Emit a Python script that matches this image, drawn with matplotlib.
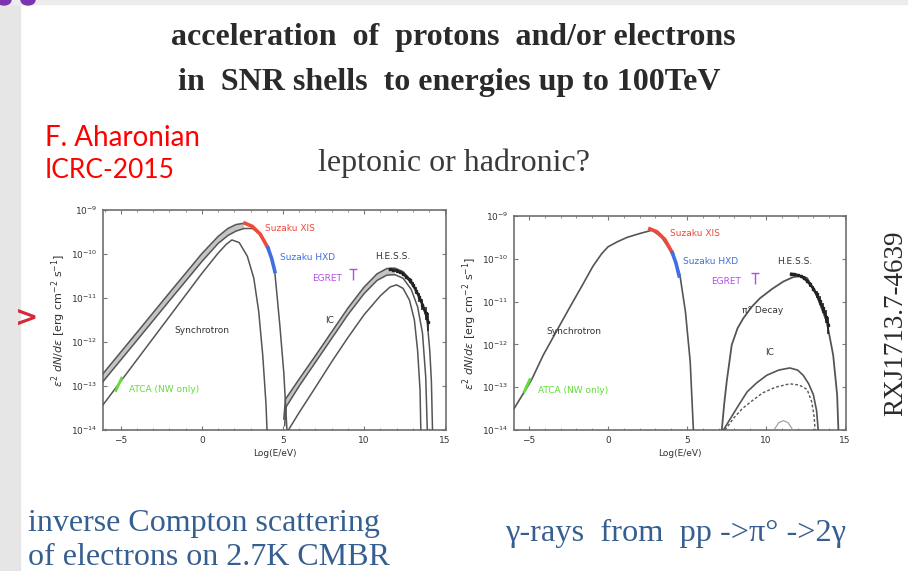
import numpy as np
import matplotlib.pyplot as plt
from matplotlib.patches import Rectangle, Ellipse
from matplotlib.ticker import LogLocator, MultipleLocator, NullFormatter

# all fluxes are log10(eps^2 dN/deps [erg cm^-2 s^-1]) against log10(E/eV)

# leptonic model: synchrotron
lep_syn_x = [-6.1, -4, -2, 0, 1, 1.6, 2.1, 2.6, 3.1, 3.6, 4.1, 4.5, 4.8, 5.05, 5.25]
lep_syn_hi = [-12.72, -11.78, -10.88, -9.99, -9.6, -9.42, -9.33, -9.3, -9.37, -9.55, -9.86, -10.43, -11.6, -12.7, -14.05]
lep_syn_mid_x = [-6.1, -4, -2, 0, 1, 1.6, 2.1, 2.6, 3.1, 3.5]
lep_syn_mid = [-12.9, -11.96, -11.06, -10.17, -9.76, -9.58, -9.48, -9.42, -9.42, -9.51]
lep_syn_lo_x = [-6.1, -4, -2, 0, 1, 1.5, 1.85, 2.3, 2.8, 3.2, 3.5, 3.75, 3.95, 4.02]
lep_syn_lo = [-13.43, -12.4, -11.42, -10.44, -9.98, -9.78, -9.68, -9.74, -10.05, -10.55, -11.3, -12.3, -13.4, -14.05]

# leptonic model: inverse Compton
lep_ic_hi_x = [5.05, 5.15, 6, 7, 8, 9, 10, 10.8, 11.4, 11.9, 12.4, 12.9, 13.4, 13.87, 14.05, 14.15, 14.22]
lep_ic_hi = [-13.75, -13.3, -12.84, -12.31, -11.77, -11.23, -10.75, -10.45, -10.33, -10.32, -10.4, -10.6, -10.95, -11.46, -12.2, -12.9, -14.05]
lep_ic_mid_x = [5.1, 5.2, 6, 7, 8, 9, 10, 10.8, 11.4, 11.9, 12.4, 12.9, 13.3, 13.6, 13.8, 13.9]
lep_ic_mid = [-13.9, -13.47, -13.0, -12.46, -11.92, -11.38, -10.9, -10.6, -10.48, -10.47, -10.55, -10.8, -11.2, -11.8, -12.8, -14.05]
lep_ic_lo_x = [5.25, 6, 7, 8, 9, 10, 11, 11.6, 12.0, 12.4, 12.8, 13.1, 13.3, 13.45, 13.5]
lep_ic_lo = [-14.05, -13.6, -13.03, -12.45, -11.9, -11.38, -10.95, -10.75, -10.7, -10.78, -11.05, -11.5, -12.2, -13.1, -14.05]

# hadronic model
had_syn_x = [-5.95, -5.25, -4.83, -4.1, -3.2, -2.4, -1.6, -0.95, -0.4, 0, 0.6, 1.2, 2.0, 2.8, 3.4, 4.05, 4.55, 4.9, 5.2, 5.4]
had_syn = [-13.5, -13.08, -12.82, -12.25, -11.65, -11.12, -10.6, -10.17, -9.88, -9.72, -9.6, -9.5, -9.41, -9.33, -9.5, -9.86, -10.38, -11.24, -12.4, -13.98]
had_pi0_x = [7.2, 7.35, 7.51, 7.83, 8.2, 8.56, 9.1, 9.62, 10.4, 11.1, 11.7, 12.2, 12.6, 13.2, 13.85, 14.25, 14.5, 14.58]
had_pi0 = [-14.0, -13.4, -12.87, -12.01, -11.62, -11.39, -11.12, -10.92, -10.7, -10.53, -10.43, -10.4, -10.45, -10.85, -11.48, -12.25, -13.18, -14.0]
had_ic_x = [7.3, 7.8, 8.3, 8.8, 9.4, 10.05, 10.8, 11.5, 12.0, 12.35, 12.7, 13.0, 13.2, 13.3]
had_ic = [-14.0, -13.7, -13.4, -13.11, -12.9, -12.72, -12.6, -12.55, -12.6, -12.72, -12.92, -13.18, -13.55, -14.0]
had_ic_dash_x = [7.4, 8.0, 8.5, 9.0, 9.8, 10.6, 11.5, 12.1, 12.6, 12.9, 13.05, 13.1]
had_ic_dash = [-14.0, -13.7, -13.5, -13.35, -13.13, -13.0, -12.92, -12.95, -13.05, -13.35, -13.7, -14.0]
had_ic_bump_x = [10.5, 10.8, 11.1, 11.4, 11.7]
had_ic_bump = [-14.0, -13.83, -13.78, -13.83, -14.0]

# measurements
atca_x = [-5.3, -4.95]
atca_y = [-13.1, -12.82]
xis_x = [2.65, 3.1, 3.6, 4.07]
xis_y = [-9.3, -9.37, -9.55, -9.86]
hxd_x = [4.07, 4.3, 4.5]
hxd_y = [-9.86, -10.1, -10.4]
hess_x = [11.6, 11.8, 12.0, 12.2, 12.4, 12.6, 12.8, 13.0, 13.2, 13.4, 13.6, 13.8, 13.95]
hess_y = [-10.35, -10.36, -10.38, -10.41, -10.45, -10.52, -10.6, -10.7, -10.83, -10.98, -11.15, -11.35, -11.55]
hess_err = [0.03, 0.03, 0.03, 0.03, 0.04, 0.04, 0.05, 0.06, 0.08, 0.1, 0.12, 0.15, 0.2]
egret_x = [9.3]
egret_hi = [-10.33]
egret_lo = [-10.58]

LINE = '#555555'
BAND = '#c4c4c4'
RED = '#ee4a3a'
BLUE = '#3f6fe0'
GREEN = '#62dd3a'
MAGENTA = '#b24ee6'
SERIF = 'Liberation Serif'
FS = 6.5


def lg(v):
    return 10.0 ** np.asarray(v, dtype=float)


def setup(ax, xlim):
    ax.set_yscale('log')
    ax.set_xlim(*xlim)
    ax.set_ylim(1e-14, 1e-9)
    ax.yaxis.set_major_locator(LogLocator(base=10, numticks=10))
    ax.yaxis.set_minor_formatter(NullFormatter())
    ax.yaxis.set_minor_locator(LogLocator(base=10, subs=[], numticks=10))
    ax.xaxis.set_major_locator(MultipleLocator(5))
    ax.xaxis.set_minor_locator(MultipleLocator(1))
    ax.tick_params(which='both', direction='in', top=True, right=True,
                   color='#777777', labelsize=FS, labelcolor='#333333', pad=4)
    ax.tick_params(which='major', length=3)
    ax.tick_params(which='minor', length=1.5)
    for s in ax.spines.values():
        s.set_color('#6f6f6f')
        s.set_linewidth(1.2)
    ax.set_xlabel('Log(E/eV)', fontsize=FS, color='#333333', labelpad=3)
    ax.set_ylabel(r'$\varepsilon^2\ dN/d\varepsilon\ [\mathrm{erg\ cm^{-2}\ s^{-1}}]$',
                  fontsize=8, color='#333333', labelpad=2)


def band(ax, x1, y1, x2, y2, n1, n2):
    px = np.r_[x1[:n1], x2[:n2][::-1]]
    py = np.r_[y1[:n1], y2[:n2][::-1]]
    ax.fill(px, lg(py), color=BAND, lw=0, zorder=1)


def data_marks(ax):
    ax.plot(atca_x, lg(atca_y), color=GREEN, lw=2, zorder=4)
    ax.plot(xis_x, lg(xis_y), color=RED, lw=2.6, zorder=4)
    ax.plot(hxd_x, lg(hxd_y), color=BLUE, lw=2.6, zorder=4)
    hy = np.asarray(hess_y)
    he = np.asarray(hess_err)
    ax.plot(hess_x, lg(hy), color='#222222', lw=1.8, zorder=5)
    ax.errorbar(hess_x, lg(hy), yerr=[lg(hy) - lg(hy - he), lg(hy + he) - lg(hy)],
                fmt='s', ms=1.5, color='#222222', elinewidth=1.2, capsize=0, zorder=5)
    ax.vlines(egret_x, lg(egret_lo), lg(egret_hi), color=MAGENTA, lw=1, zorder=4)
    ax.hlines(lg(egret_hi), np.asarray(egret_x) - 0.25, np.asarray(egret_x) + 0.25,
              color=MAGENTA, lw=1, zorder=4)


def label(ax, x, y, s, color='#333333', ha='left'):
    ax.text(x, 10.0 ** y, s, fontsize=FS, color=color, ha=ha, va='center', zorder=6)


fig = plt.figure(figsize=(9.08, 5.71), dpi=100)

# slide decoration
fig.patches.append(Rectangle((0, 0), 20 / 908, 1, transform=fig.transFigure,
                             color='#e6e6e6', zorder=0))
fig.patches.append(Rectangle((0, 1 - 4 / 571), 1, 4 / 571, transform=fig.transFigure,
                             color='#ececec', zorder=0))
for cx in (4 / 908, 28 / 908):
    fig.patches.append(Ellipse((cx, 1.0), 14 / 908, 10 / 571, transform=fig.transFigure,
                               color='#7a35b0', zorder=1))

fig.text(0.499, 0.935, 'acceleration  of  protons  and/or electrons', family=SERIF,
         weight='bold', fontsize=23, color='#2a2a2a', ha='center', va='center')
fig.text(0.495, 0.856, 'in  SNR shells  to energies up to 100TeV', family=SERIF,
         weight='bold', fontsize=23, color='#2a2a2a', ha='center', va='center')
fig.text(0.0496, 0.758, 'F. Aharonian', family='Lato', fontsize=20, color='#ff0000',
         ha='left', va='center')
fig.text(0.0496, 0.702, 'ICRC-2015', family='Lato', fontsize=19, color='#ff0000',
         ha='left', va='center')
fig.text(0.5, 0.7145, 'leptonic or hadronic?', family=SERIF, fontsize=23,
         color='#3a3a3a', ha='center', va='center')
fig.text(0.987, 0.434, 'RXJ1713.7-4639', family=SERIF, fontsize=19.5, color='#2a2a2a',
         rotation=90, ha='center', va='center')
fig.text(0.0297, 0.443, '>', fontsize=20, weight='bold', color='#d42a3c',
         ha='center', va='center')
fig.text(0.031, 0.084, 'inverse Compton scattering', family=SERIF, fontsize=23,
         color='#365f91', ha='left', va='center')
fig.text(0.031, 0.0245, 'of electrons on 2.7K CMBR', family=SERIF, fontsize=23,
         color='#365f91', ha='left', va='center')
fig.text(0.556, 0.0665, 'γ-rays  from  pp ->π° ->2γ', family=SERIF, fontsize=23.3,
         color='#365f91', ha='left', va='center')

# leptonic panel
ax1 = fig.add_axes([0.1134, 0.2469, 0.3778, 0.3853])
setup(ax1, (-6.1, 15.05))
band(ax1, lep_syn_x, lep_syn_hi, lep_syn_mid_x, lep_syn_mid, 8, 8)
band(ax1, lep_ic_hi_x, lep_ic_hi, lep_ic_mid_x, lep_ic_mid, 10, 10)
for xs, ys in [(lep_syn_x, lep_syn_hi), (lep_syn_mid_x, lep_syn_mid), (lep_syn_lo_x, lep_syn_lo),
               (lep_ic_hi_x, lep_ic_hi), (lep_ic_mid_x, lep_ic_mid), (lep_ic_lo_x, lep_ic_lo)]:
    ax1.plot(xs, lg(ys), color=LINE, lw=1.1, zorder=3)
data_marks(ax1)
label(ax1, 3.9, -9.41, 'Suzaku XIS', RED)
label(ax1, 4.8, -10.07, 'Suzaku HXD', BLUE)
label(ax1, 10.7, -10.05, 'H.E.S.S.')
label(ax1, 6.8, -10.55, 'EGRET', MAGENTA)
label(ax1, 7.9, -11.52, 'IC', ha='center')
label(ax1, 0.0, -11.73, 'Synchrotron', ha='center')
label(ax1, -4.5, -13.09, 'ATCA (NW only)', GREEN)

# hadronic panel
ax2 = fig.add_axes([0.5661, 0.2469, 0.3656, 0.3748])
setup(ax2, (-5.95, 15.06))
ax2.plot(had_syn_x, lg(had_syn), color=LINE, lw=1.2, zorder=3)
ax2.plot(had_pi0_x, lg(had_pi0), color=LINE, lw=1.3, zorder=3)
ax2.plot(had_ic_x, lg(had_ic), color=LINE, lw=1.2, zorder=3)
ax2.plot(had_ic_dash_x, lg(had_ic_dash), color=LINE, lw=1.0, ls=(0, (2, 1.5)), zorder=3)
ax2.plot(had_ic_bump_x, lg(had_ic_bump), color='#999999', lw=0.8, zorder=3)
data_marks(ax2)
label(ax2, 3.92, -9.42, 'Suzaku XIS', RED)
label(ax2, 4.75, -10.07, 'Suzaku HXD', BLUE)
label(ax2, 10.7, -10.07, 'H.E.S.S.')
label(ax2, 6.5, -10.54, 'EGRET', MAGENTA)
label(ax2, 8.5, -11.2, 'π° Decay')
label(ax2, 10.25, -12.18, 'IC', ha='center')
label(ax2, -2.18, -11.7, 'Synchrotron', ha='center')
label(ax2, -4.43, -13.07, 'ATCA (NW only)', GREEN)

fig.savefig('out.png', dpi=100)
